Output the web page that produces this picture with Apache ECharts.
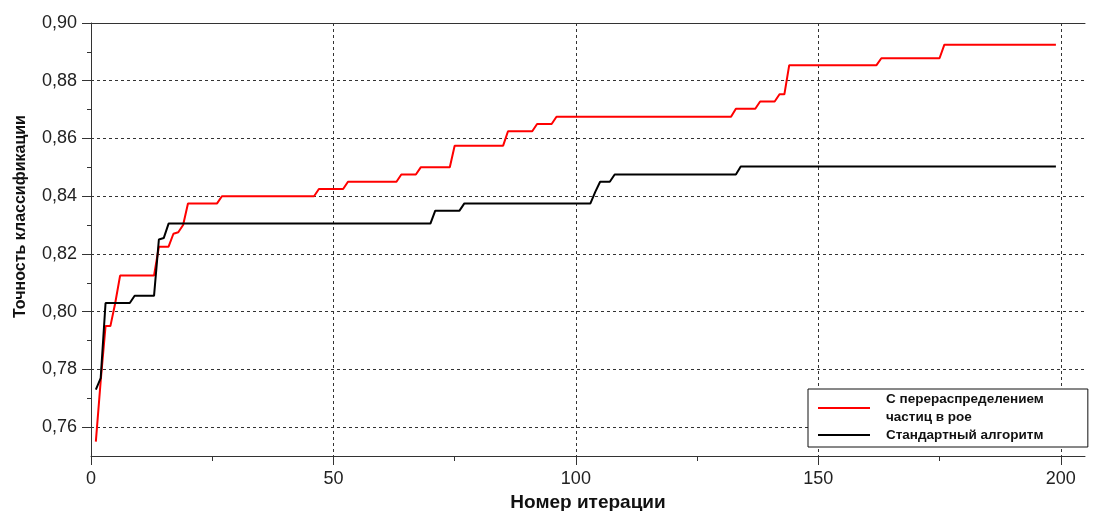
<!DOCTYPE html>
<html><head><meta charset="utf-8">
<script src="https://cdn.jsdelivr.net/npm/echarts@6/dist/echarts.min.js"></script>
<style>html,body{margin:0;padding:0;background:#fff}#c{width:1098px;height:511px}</style>
</head><body><div id="c"></div>
<script>
const redName = 'С перераспределением\nчастиц в рое';
const blackName = 'Стандартный алгоритм';
const xAxisName = 'Номер итерации';
const yAxisName = 'Точность классификации';

const redIter = [1, 2, 3, 4, 5, 6, 13, 14, 16, 17, 18, 19, 20, 26, 27, 46, 47, 52, 53, 63, 64, 67, 68, 74, 75, 85, 86, 91, 92, 95, 96, 132, 133, 137, 138, 141, 142, 143, 144, 162, 163, 175, 176, 199];
const redAcc  = [0.755, 0.776, 0.795, 0.795, 0.803, 0.8125, 0.8125, 0.8225, 0.8225, 0.827, 0.8275, 0.83, 0.8375, 0.8375, 0.84, 0.84, 0.8425, 0.8425, 0.845, 0.845, 0.8475, 0.8475, 0.85, 0.85, 0.8575, 0.8575, 0.8625, 0.8625, 0.865, 0.865, 0.8675, 0.8675, 0.8703, 0.8703, 0.8728, 0.8728, 0.8753, 0.8753, 0.8854, 0.8854, 0.8878, 0.8878, 0.8925, 0.8925];

const blackIter = [1, 2, 3, 8, 9, 13, 14, 15, 16, 70, 71, 76, 77, 103, 104, 105, 107, 108, 133, 134, 199];
const blackAcc  = [0.773, 0.777, 0.803, 0.803, 0.8055, 0.8055, 0.825, 0.8255, 0.8305, 0.8305, 0.835, 0.835, 0.8375, 0.8375, 0.8415, 0.845, 0.845, 0.8475, 0.8475, 0.8503, 0.8503];

const xMajorTicks = [0, 50, 100, 150, 200];
const xMinorTicks = [25, 75, 125, 175];
const yMajorTicks = [0.76, 0.78, 0.80, 0.82, 0.84, 0.86, 0.88, 0.90];
const yMinorTicks = [0.77, 0.79, 0.81, 0.83, 0.85, 0.87, 0.89];

const pairs = (xs, ys) => xs.map((x, i) => [x, ys[i]]);
const FONT = "'Liberation Sans', Arial, sans-serif";
const AX = '#333';
const gridLine = { show: true, lineStyle: { color: '#333', type: [3, 3], width: 1 } };

const chart = echarts.init(document.getElementById('c'), null, { renderer: 'canvas' });
chart.setOption({
  animation: false,
  backgroundColor: '#fff',
  grid: { left: 91, right: 13, top: 23, bottom: 55, containLabel: false, outerBoundsMode: 'none' },
  xAxis: [
    {
      type: 'value', min: 0, max: 205, position: 'bottom',
      name: xAxisName, nameLocation: 'middle', nameGap: 34,
      nameTextStyle: { fontFamily: FONT, fontSize: 19, fontWeight: 'bold', color: '#111' },
      axisLine: { show: true, onZero: false, lineStyle: { color: AX, width: 1 } },
      axisTick: { show: true, inside: false, length: 9, customValues: xMajorTicks, lineStyle: { color: AX } },
      axisLabel: { show: true, margin: 14, customValues: xMajorTicks, fontFamily: FONT, fontSize: 18, color: '#222' },
      splitLine: gridLine
    },
    {
      type: 'value', min: 0, max: 205, position: 'bottom',
      axisLine: { show: false, onZero: false },
      axisTick: { show: true, inside: false, length: 5, customValues: xMinorTicks, lineStyle: { color: AX } },
      axisLabel: { show: false },
      splitLine: { show: false }
    },
    {
      type: 'value', min: 0, max: 205, position: 'top',
      axisLine: { show: true, onZero: false, lineStyle: { color: AX, width: 1 } },
      axisTick: { show: false }, axisLabel: { show: false }, splitLine: { show: false }
    }
  ],
  yAxis: [
    {
      type: 'value', min: 0.75, max: 0.90, position: 'left',
      name: yAxisName, nameLocation: 'middle', nameGap: 62,
      nameTextStyle: { fontFamily: FONT, fontSize: 16, fontWeight: 'bold', color: '#111', padding: [0, 0, 0, 46] },
      axisLine: { show: true, onZero: false, lineStyle: { color: AX, width: 1 } },
      axisTick: { show: true, inside: false, length: 9, customValues: yMajorTicks, lineStyle: { color: AX } },
      axisLabel: { show: true, margin: 14, customValues: yMajorTicks, fontFamily: FONT, fontSize: 18, color: '#222',
        formatter: v => v.toFixed(2).replace('.', ',') },
      splitLine: gridLine
    },
    {
      type: 'value', min: 0.75, max: 0.90, position: 'left',
      axisLine: { show: false, onZero: false },
      axisTick: { show: true, inside: false, length: 4, customValues: yMinorTicks, lineStyle: { color: AX } },
      axisLabel: { show: false },
      splitLine: { show: false }
    }
  ],
  legend: {
    orient: 'vertical', left: 808, top: 389,
    padding: [1, 44, 3, 10], itemGap: 0,
    itemWidth: 52, itemHeight: 2, icon: 'rect',
    borderColor: '#111', borderWidth: 1, backgroundColor: '#fff',
    textStyle: { fontFamily: FONT, fontSize: 13.5, fontWeight: 'bold', color: '#111', lineHeight: 18, padding: [0, 0, 0, 11] },
    data: [redName, blackName], z: 20
  },
  series: [
    { name: redName, type: 'line', xAxisIndex: 0, yAxisIndex: 0, data: pairs(redIter, redAcc),
      showSymbol: false, symbol: 'none', lineStyle: { color: '#ff0000', width: 2 }, itemStyle: { color: '#ff0000' }, z: 3 },
    { name: blackName, type: 'line', xAxisIndex: 0, yAxisIndex: 0, data: pairs(blackIter, blackAcc),
      showSymbol: false, symbol: 'none', lineStyle: { color: '#000', width: 2 }, itemStyle: { color: '#000' }, z: 4 }
  ]
});
</script></body></html>
